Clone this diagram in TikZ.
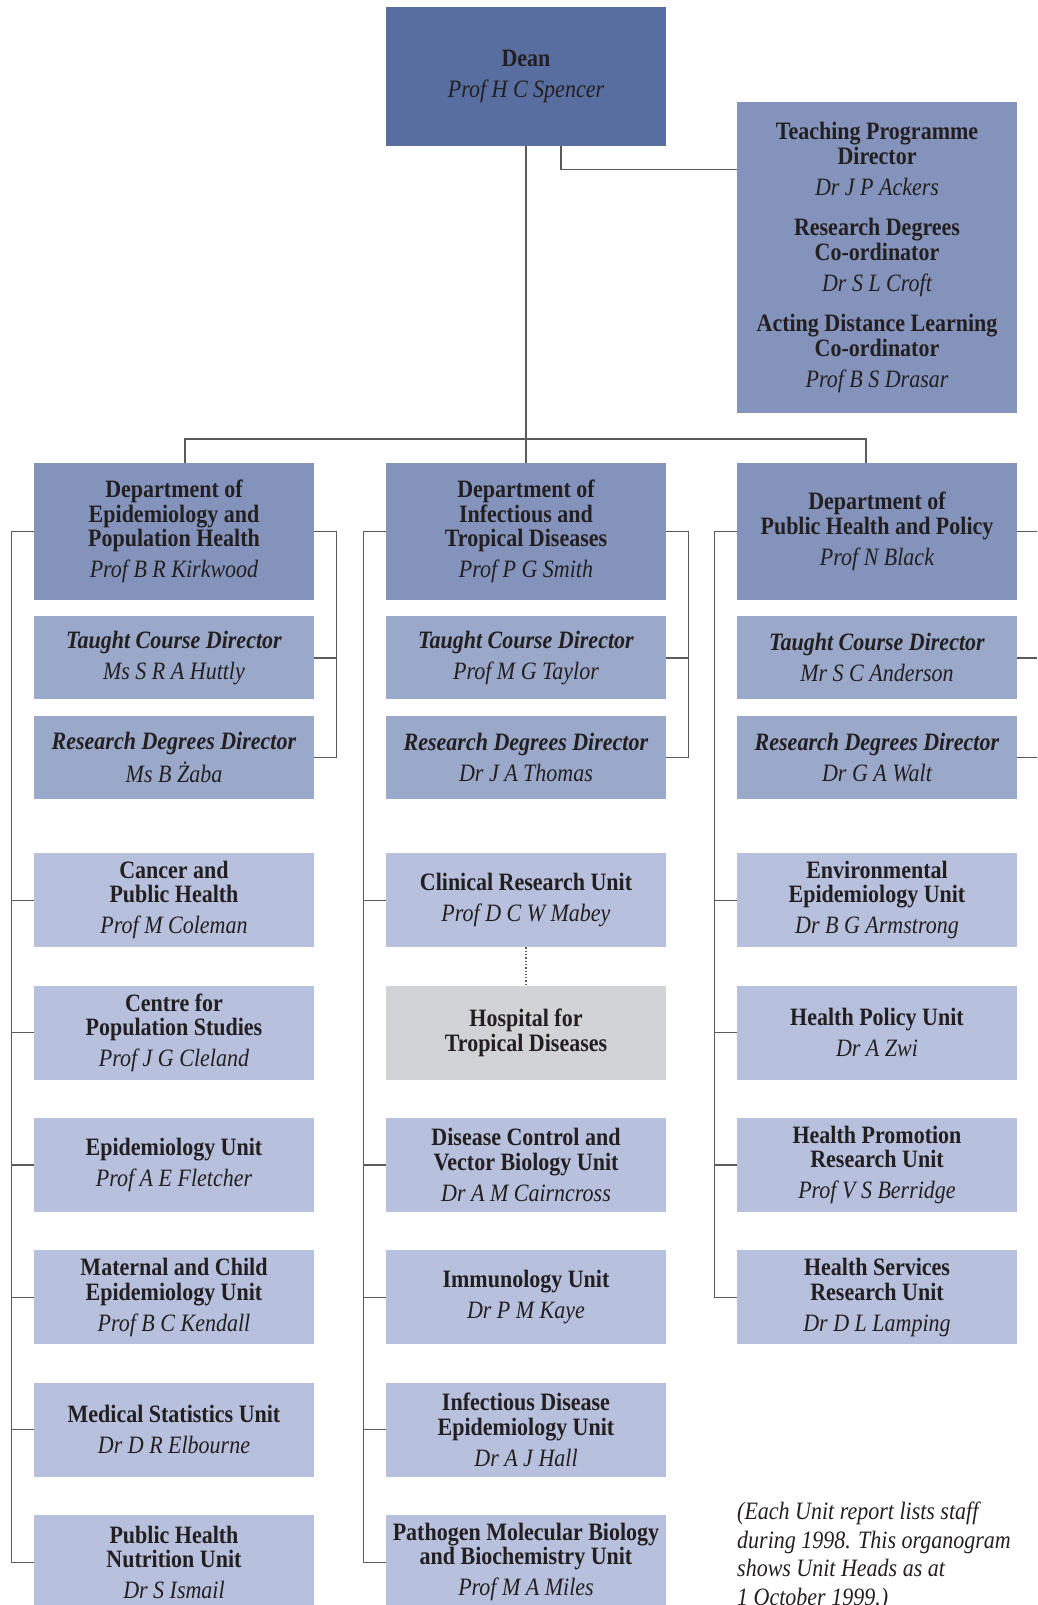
\documentclass[tikz,border=0pt]{standalone}
\usepackage{fontspec}
\setmainfont{Liberation Serif}[FakeStretch=0.88]
\usetikzlibrary{positioning}
\definecolor{ink}{HTML}{231F20}
\definecolor{linegray}{HTML}{5A5A5A}
\definecolor{deanblue}{HTML}{586EA0}
\definecolor{deptblue}{HTML}{8393BB}
\definecolor{roleblue}{HTML}{9AA8CA}
\definecolor{unitblue}{HTML}{B7C0DC}
\definecolor{hospgray}{HTML}{D2D3D6}
\newcommand{\hd}[1]{{\mdseries\itshape #1}}

\begin{document}
\begin{tikzpicture}[x=1pt,y=-1pt,
    box/.style={rectangle,inner sep=0pt,minimum width=280pt,align=center,text=ink,font=\fontsize{25}{24.5}\selectfont\bfseries},
    dept/.style={box,fill=deptblue,minimum height=137pt},
    role/.style={box,fill=roleblue,minimum height=83pt},
    unit/.style={box,fill=unitblue,minimum height=94pt},
    link/.style={draw=linegray,line width=1.3pt}]
    \useasboundingbox (0,0) rectangle (1037,1605);
    \clip (0,0) rectangle (1037,1605);
    \node (dean) [box,fill=deanblue,minimum height=139pt] at (526,76.5) {Dean\\[6.5pt]\hd{Prof H C Spencer}};
    \node (tpd) [box,fill=deptblue,minimum height=311pt] at (877,257.5) {Teaching Programme\\Director\\[6.5pt]\hd{Dr J P Ackers}\\[16pt]Research Degrees\\Co-ordinator\\[6.5pt]\hd{Dr S L Croft}\\[16pt]Acting Distance Learning\\Co-ordinator\\[6.5pt]\hd{Prof B S Drasar}};
    \node (d1) [dept] at (174,531.5) {Department of\\Epidemiology and\\Population Health\\[6.5pt]\hd{Prof B R Kirkwood}};
    \node (d2) [dept] at (526,531.5) {Department of\\Infectious and\\Tropical Diseases\\[6.5pt]\hd{Prof P G Smith}};
    \node (d3) [dept] at (877,531.5) {Department of\\Public Health and Policy\\[6.5pt]\hd{Prof N Black}};
    \node (t1) [role,below=16pt of d1] {\textit{Taught Course Director}\\[6.5pt]\hd{Ms S R A Huttly}};
    \node (r1) [role,below=16pt of t1] {\textit{Research Degrees Director}\\[6.5pt]\hd{Ms B Żaba}};
    \node (t2) [role,below=16pt of d2] {\textit{Taught Course Director}\\[6.5pt]\hd{Prof M G Taylor}};
    \node (r2) [role,below=16pt of t2] {\textit{Research Degrees Director}\\[6.5pt]\hd{Dr J A Thomas}};
    \node (t3) [role,below=16pt of d3] {\textit{Taught Course Director}\\[6.5pt]\hd{Mr S C Anderson}};
    \node (r3) [role,below=16pt of t3] {\textit{Research Degrees Director}\\[6.5pt]\hd{Dr G A Walt}};
    \node (u11) [unit,below=54pt of r1] {Cancer and\\Public Health\\[6.5pt]\hd{Prof M Coleman}};
    \node (u12) [unit,below=38pt of u11] {Centre for\\Population Studies\\[6.5pt]\hd{Prof J G Cleland}};
    \node (u13) [unit,below=38pt of u12] {Epidemiology Unit\\[6.5pt]\hd{Prof A E Fletcher}};
    \node (u14) [unit,below=38pt of u13] {Maternal and Child\\Epidemiology Unit\\[6.5pt]\hd{Prof B C Kendall}};
    \node (u15) [unit,below=38pt of u14] {Medical Statistics Unit\\[6.5pt]\hd{Dr D R Elbourne}};
    \node (u16) [unit,below=38pt of u15] {Public Health\\Nutrition Unit\\[6.5pt]\hd{Dr S Ismail}};
    \node (u21) [unit,below=54pt of r2] {Clinical Research Unit\\[6.5pt]\hd{Prof D C W Mabey}};
    \node (u22) [unit,fill=hospgray,below=38pt of u21] {Hospital for\\Tropical Diseases};
    \node (u23) [unit,below=38pt of u22] {Disease Control and\\Vector Biology Unit\\[6.5pt]\hd{Dr A M Cairncross}};
    \node (u24) [unit,below=38pt of u23] {Immunology Unit\\[6.5pt]\hd{Dr P M Kaye}};
    \node (u25) [unit,below=38pt of u24] {Infectious Disease\\Epidemiology Unit\\[6.5pt]\hd{Dr A J Hall}};
    \node (u26) [unit,below=38pt of u25] {Pathogen Molecular Biology\\and Biochemistry Unit\\[6.5pt]\hd{Prof M A Miles}};
    \node (u31) [unit,below=54pt of r3] {Environmental\\Epidemiology Unit\\[6.5pt]\hd{Dr B G Armstrong}};
    \node (u32) [unit,below=38pt of u31] {Health Policy Unit\\[6.5pt]\hd{Dr A Zwi}};
    \node (u33) [unit,below=38pt of u32] {Health Promotion\\Research Unit\\[6.5pt]\hd{Prof V S Berridge}};
    \node (u34) [unit,below=38pt of u33] {Health Services\\Research Unit\\[6.5pt]\hd{Dr D L Lamping}};
    \node (note) [anchor=north west,align=left,inner sep=0pt,text=ink,font=\fontsize{25}{28.5}\selectfont\itshape] at (737,1502) {(Each Unit report lists staff\\during 1998. This organogram\\shows Unit Heads as at\\1 October 1999.)};
    \coordinate (hub) at (526,439);
    \draw[link] (dean.south) -- (d2.north);
    \draw[link] ([xshift=11pt]d1.north) |- (hub) -| ([xshift=-11pt]d3.north);
    \draw[link] ([xshift=35pt]dean.south) |- ([yshift=-68pt]tpd.north west);
    \draw[link] (d1.west) -| ([xshift=-22.5pt]u16.west) -- (u16.west);
    \draw[link] (d2.west) -| ([xshift=-22.5pt]u26.west) -- (u26.west);
    \draw[link] (d3.west) -| ([xshift=-22.5pt]u34.west) -- (u34.west);
    \foreach \u in {u11,u12,u13,u14,u15,u21,u23,u24,u25,u31,u32,u33}
      \draw[link] (\u.west) -- ++(-22.5,0);
    \draw[link] (d1.east) -- ++(22.5,0) |- (r1.east);
    \draw[link] (t1.east) -- ++(22.5,0);
    \draw[link] (d2.east) -- ++(22.5,0) |- (r2.east);
    \draw[link] (t2.east) -- ++(22.5,0);
    \draw[link] (d3.east) -- ++(22.5,0) |- (r3.east);
    \draw[link] (t3.east) -- ++(22.5,0);
    \draw[link,dotted] (u21) -- (u22);
  \end{tikzpicture}
\end{document}
